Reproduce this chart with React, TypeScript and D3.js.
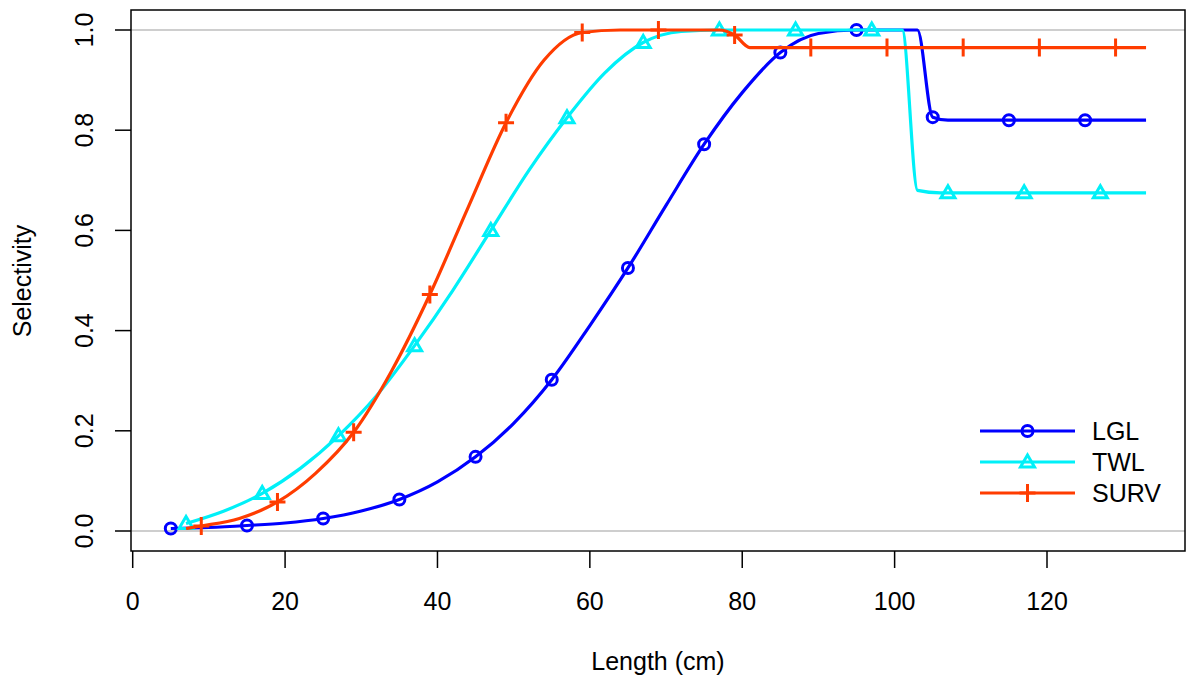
import * as d3 from "d3";

const lglX = [5, 10, 15, 20, 25, 30, 35, 40, 45, 50, 55, 60, 65, 70, 75, 80, 85, 90, 95, 103, 105, 107, 133];
const lglY = [0.005, 0.007, 0.011, 0.016, 0.025, 0.04, 0.063, 0.098, 0.148, 0.215, 0.302, 0.41, 0.525, 0.65, 0.772, 0.875, 0.955, 0.993, 1.0, 1.0, 0.826, 0.82, 0.82];
const lglMx = [5, 15, 25, 35, 45, 55, 65, 75, 85, 95, 105, 115, 125];

const twlX = [7, 12, 17, 22, 27, 32, 37, 42, 47, 52, 57, 62, 67, 72, 77, 101, 103, 106, 133];
const twlY = [0.015, 0.04, 0.075, 0.125, 0.19, 0.27, 0.37, 0.48, 0.6, 0.72, 0.825, 0.915, 0.975, 0.997, 1, 1, 0.68, 0.675, 0.675];
const twlMx = [7, 17, 27, 37, 47, 57, 67, 77, 87, 97, 107, 117, 127];

const survX = [7, 9, 14, 19, 24, 29, 34, 39, 44, 49, 54, 59, 64, 77, 79, 81, 133];
const survY = [0.005, 0.01, 0.025, 0.058, 0.115, 0.197, 0.32, 0.472, 0.645, 0.815, 0.94, 0.995, 1.0, 1.0, 0.99, 0.965, 0.965];
const survMx = [9, 19, 29, 39, 49, 59, 69, 79, 89, 99, 109, 119, 129];

const xTicks = [0, 20, 40, 60, 80, 100, 120];
const yTicks = [0, 0.2, 0.4, 0.6, 0.8, 1.0];
const names = ["LGL", "TWL", "SURV"];
const colors = ["#0000FF", "#00F0F8", "#FF3C00"];

const x = d3.scaleLinear().domain([0, 120]).range([132.7, 1047]);
const y = d3.scaleLinear().domain([0, 1]).range([531, 30]);

const series = [
  { xs: lglX, ys: lglY, mx: lglMx },
  { xs: twlX, ys: twlY, mx: twlMx },
  { xs: survX, ys: survY, mx: survMx },
];

// value at marker position
const at = (xs: number[], ys: number[], v: number) => {
  const i = d3.bisectLeft(xs, v);
  if (xs[i] === v) return ys[i];
  const a = Math.max(i - 1, 0);
  const t = (v - xs[a]) / (xs[i] - xs[a]);
  return ys[a] + t * (ys[i] - ys[a]);
};

const Marker = ({ k, cx, cy, c }: { k: number; cx: number; cy: number; c: string }) => {
  if (k === 0) return <circle cx={cx} cy={cy} r={5.5} fill="none" stroke={c} strokeWidth={3} />;
  if (k === 1)
    return <path d={`M${cx - 7},${cy + 5}L${cx + 7},${cy + 5}L${cx},${cy - 7}Z`} fill="none" stroke={c} strokeWidth={3} />;
  return <path d={`M${cx - 8},${cy}H${cx + 8}M${cx},${cy - 9}V${cy + 9}`} stroke={c} strokeWidth={3} />;
};

export default function App() {
  const line = d3.line<number>().curve(d3.curveMonotoneX);
  return (
    <svg width={1186} height={682} style={{ display: "block", position: "absolute", left: 0, top: 0 }}
      fontFamily="Liberation Sans, Arial, sans-serif">
      <rect width={1186} height={682} fill="#fff" />
      {[0, 1].map((v) => (
        <line key={v} x1={131} x2={1185} y1={y(v)} y2={y(v)} stroke="#bebebe" strokeWidth={1.5} />
      ))}
      {series.map((s, k) => (
        <g key={k}>
          <path d={line(s.xs.map((v, i) => [x(v), y(s.ys[i])]) as any) || ""} fill="none" stroke={colors[k]} strokeWidth={3.2} />
          {s.mx.map((v) => (
            <Marker key={v} k={k} cx={x(v)} cy={y(at(s.xs, s.ys, v))} c={colors[k]} />
          ))}
        </g>
      ))}
      <rect x={131} y={10} width={1054} height={541} fill="none" stroke="#000" strokeWidth={1.5} />
      {xTicks.map((t) => (
        <g key={t}>
          <line x1={x(t)} x2={x(t)} y1={551} y2={568} stroke="#000" strokeWidth={1.5} />
          <text x={x(t)} y={610} textAnchor="middle" fontSize={25}>{t}</text>
        </g>
      ))}
      {yTicks.map((t) => (
        <g key={t}>
          <line x1={115} x2={131} y1={y(t)} y2={y(t)} stroke="#000" strokeWidth={1.5} />
          <text transform={`translate(93,${y(t)}) rotate(-90)`} textAnchor="middle" fontSize={25}>{t.toFixed(1)}</text>
        </g>
      ))}
      <text x={658} y={670} textAnchor="middle" fontSize={25}>Length (cm)</text>
      <text transform="translate(31,281) rotate(-90)" textAnchor="middle" fontSize={25}>Selectivity</text>
      {names.map((n, k) => {
        const ly = 431 + k * 31;
        return (
          <g key={n}>
            <line x1={980} x2={1075} y1={ly} y2={ly} stroke={colors[k]} strokeWidth={3.2} />
            <Marker k={k} cx={1027.5} cy={ly} c={colors[k]} />
            <text x={1092} y={ly + 9} fontSize={25}>{n}</text>
          </g>
        );
      })}
    </svg>
  );
}
